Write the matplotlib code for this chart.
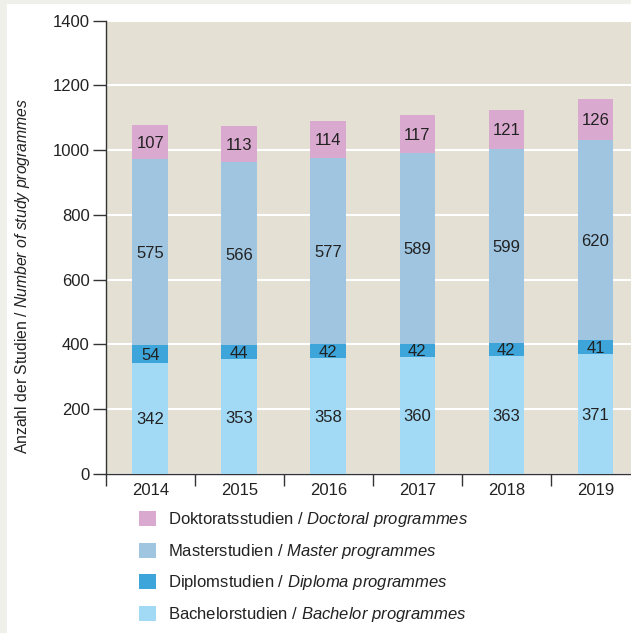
import matplotlib
matplotlib.use('Agg')
import matplotlib.pyplot as plt
from matplotlib.patches import Patch, Rectangle
import numpy as np

plt.rcParams['font.family'] = ['Liberation Sans', 'DejaVu Sans']
plt.rcParams['mathtext.fontset'] = 'custom'
plt.rcParams['mathtext.rm'] = 'Liberation Sans'
plt.rcParams['mathtext.it'] = 'Liberation Sans:italic'

years = ['2014', '2015', '2016', '2017', '2018', '2019']
bachelor = [342, 353, 358, 360, 363, 371]
diplom = [54, 44, 42, 42, 42, 41]
master = [575, 566, 577, 589, 599, 620]
doktorat = [107, 113, 114, 117, 121, 126]

series = [
    ('Bachelorstudien / $Bachelor\\ programmes$', bachelor, '#a2d9f4'),
    ('Diplomstudien / $Diploma\\ programmes$', diplom, '#3ea5da'),
    ('Masterstudien / $Master\\ programmes$', master, '#9fc5e1'),
    ('Doktoratsstudien / $Doctoral\\ programmes$', doktorat, '#d9a9cf'),
]
TEXT = '#222222'

fig = plt.figure(figsize=(6.31, 6.33), dpi=100, facecolor='#f0f0ea')
fig.patches.append(Rectangle((7 / 631, 0), 1, (633 - 4) / 633,
                             transform=fig.transFigure, facecolor='white',
                             edgecolor='none', zorder=-10))
ax = fig.add_axes([105.7 / 631, (633 - 473.6) / 633,
                   1 - 105.7 / 631, (473.6 - 20.7) / 633])
ax.set_facecolor('#e4e1d4')

x = np.arange(len(years))
bottom = np.zeros(len(years))
handles = []
for label, vals, col in series:
    vals = np.array(vals)
    ax.bar(x, vals, width=0.4, bottom=bottom, color=col, zorder=3)
    for xi, b, v in zip(x, bottom, vals):
        ax.text(xi, b + v / 2, str(v), ha='center', va='center_baseline',
                fontsize=12, color=TEXT, zorder=4)
    bottom += vals
    handles.append(Patch(facecolor=col, label=label))

ax.set_xlim(-0.5, 5.4)
ax.set_ylim(0, 1400)
ax.set_yticks(range(0, 1401, 200))
ax.tick_params(axis='y', length=9.4, width=1, color='#333333', pad=2,
               labelsize=12, labelcolor=TEXT)
ax.set_xticks(x)
ax.set_xticklabels(years)
ax.tick_params(axis='x', which='major', length=0, pad=7, labelsize=12,
               labelcolor=TEXT)
ax.set_xticks(np.arange(-0.5, 5.5, 1), minor=True)
ax.tick_params(axis='x', which='minor', length=8.6, width=1, color='#333333')
ax.grid(axis='y', color='white', lw=1.5, zorder=1)
ax.set_axisbelow(True)
for s in ['top', 'right']:
    ax.spines[s].set_visible(False)
for s in ['left', 'bottom']:
    ax.spines[s].set_color('#333333')
    ax.spines[s].set_linewidth(1)

ax.set_ylabel('Anzahl der Studien / $Number\\ of\\ study\\ programmes$',
              fontsize=11.3, color=TEXT)
ax.yaxis.set_label_coords(-0.14, 0.436)

fig.legend(handles=handles[::-1], loc='upper left',
           bbox_to_anchor=(126 / 631, 1 - 497 / 633), frameon=False,
           fontsize=12, handlelength=1.0, handleheight=1.0,
           handletextpad=0.7, labelspacing=0.75, borderpad=0.3,
           labelcolor=TEXT)

fig.savefig('out.png', dpi=100, facecolor=fig.get_facecolor())
